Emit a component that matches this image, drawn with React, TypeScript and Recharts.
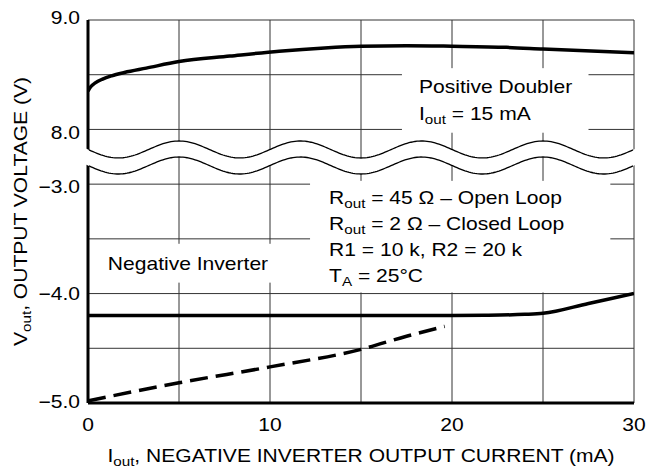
import React from "react";
import { LineChart, Line, XAxis, YAxis, CartesianGrid, ReferenceArea, Label } from "recharts";

// mA / volts
const currentTicks = [0, 5, 10, 15, 20, 25, 30];
const currentLabels = ["0", "", "10", "", "20", "", "30"];

// positive doubler, Iout = 15 mA (upper panel)
const doublerCurrent = [0, 0.15, 0.4, 0.8, 1.3, 2, 3.2, 5, 7.8, 10.5, 13, 15, 17.5, 20, 23, 25, 30];
const doublerVolts = [8.35, 8.39, 8.425, 8.46, 8.49, 8.52, 8.56, 8.62, 8.67, 8.715, 8.745, 8.76, 8.765, 8.76, 8.75, 8.735, 8.7];

// negative inverter, closed loop (solid)
const closedCurrent = [0, 5, 10, 15, 20, 22, 24, 25, 27.5, 30];
const closedVolts = [-4.2, -4.2, -4.2, -4.2, -4.2, -4.198, -4.19, -4.18, -4.09, -4.0];

// negative inverter, open loop (dashed)
const openCurrent = [0, 5, 10, 15, 17.5, 19.6];
const openVolts = [-4.98, -4.815, -4.67, -4.51, -4.39, -4.3];

// broken y axis: 8..9 V sits half a volt above -3 V
const BREAK_SHIFT = 10.5;
const voltTicks = [-5, -4.5, -4, -3.5, -3, 8, 8.5, 9];
const voltLabels = ["\u22125.0", "", "\u22124.0", "", "\u22123.0", "8.0", "", "9.0"];

const toAxis = (v: number) => (v > 0 ? v - BREAK_SHIFT : v);
const pairs = (xs: number[], ys: number[]) => xs.map((x, i) => ({ x, y: toAxis(ys[i]) }));

const doubler = pairs(doublerCurrent, doublerVolts);
const closedLoop = pairs(closedCurrent, closedVolts);
const openLoop = pairs(openCurrent, openVolts);
const yAxisTicks = voltTicks.map(toAxis);

const FONT = "'Liberation Sans', Arial, sans-serif";
const STRETCH = 1.17; // original lettering is wider than Arial
// labels next to the break sit a little away from their gridlines
const tickNudge = [-1, 0, 0, 0, 2, 3, 0, -2];

const Txt = ({ x, y, anchor = "start", rotate = 0, children }: any) => (
  <g transform={`translate(${x},${y}) rotate(${rotate}) scale(${STRETCH},1)`}>
    <text x={0} y={0} textAnchor={anchor} fontSize={18} fontFamily={FONT} fill="#000">
      {children}
    </text>
  </g>
);

const Sub = ({ children }: any) => (
  <tspan fontSize={13} dy={4}>
    {children}
  </tspan>
);

const YTick = ({ x, y, payload }: any) => {
  const i = yAxisTicks.findIndex((t) => Math.abs(t - payload.value) < 1e-6);
  const label = i >= 0 ? voltLabels[i] : "";
  if (!label) return <g />;
  return <Txt x={x} y={y + 6.4 + tickNudge[i]} anchor="end">{label}</Txt>;
};

const XTick = ({ x, y, payload }: any) => {
  const label = currentLabels[currentTicks.indexOf(payload.value)];
  if (!label) return <g />;
  return <Txt x={x} y={y + 28} anchor="middle">{label}</Txt>;
};

const WaveBreak = ({ x, y, width, height }: any) => {
  const amp = 8.5;
  const upper = y + 12.5;
  const lower = y + height - 12.5;
  const period = (width * 2) / 9;
  const crest = x + width / 6;
  const wave = (px: number, c: number) => c - amp * Math.cos((2 * Math.PI * (px - crest)) / period);
  const xs: number[] = [];
  for (let px = x - 5; px <= x + width + 5; px += 2) xs.push(px);
  const up = xs.map((px) => `${px},${wave(px, upper)}`);
  const lo = xs.map((px) => `${px},${wave(px, lower)}`).reverse();
  const inner = xs.filter((px) => px >= x && px <= x + width);
  const line = (c: number) => "M" + inner.map((px) => `${px},${wave(px, c)}`).join("L");
  return (
    <g>
      <path d={"M" + up.join("L") + "L" + lo.join("L") + "Z"} fill="#fff" stroke="none" />
      <path d={line(upper)} fill="none" stroke="#000" strokeWidth={1.3} />
      <path d={line(lower)} fill="none" stroke="#000" strokeWidth={1.3} />
    </g>
  );
};

const DoublerNote = ({ x, y, width, height }: any) => (
  <g>
    <rect x={x} y={y} width={width} height={height} fill="#fff" />
    <Txt x={x + 17} y={y + 25}>Positive Doubler</Txt>
    <Txt x={x + 17} y={y + 52}>
      I<Sub>out</Sub>
      <tspan dy={-4}> = 15 mA</tspan>
    </Txt>
  </g>
);

const ConditionsNote = ({ x, y, width, height }: any) => (
  <g>
    <rect x={x} y={y} width={width} height={height} fill="#fff" />
    <Txt x={x + 19} y={y + 23}>
      R<Sub>out</Sub>
      <tspan dy={-4}> = 45 {"\u03A9"} {"\u2013"} Open Loop</tspan>
    </Txt>
    <Txt x={x + 19} y={y + 49}>
      R<Sub>out</Sub>
      <tspan dy={-4}> = 2 {"\u03A9"} {"\u2013"} Closed Loop</tspan>
    </Txt>
    <Txt x={x + 19} y={y + 75}>R1 = 10 k, R2 = 20 k</Txt>
    <Txt x={x + 19} y={y + 101}>
      T<Sub>A</Sub>
      <tspan dy={-4}> = 25{"\u00B0"}C</tspan>
    </Txt>
  </g>
);

const InverterNote = ({ x, y, width, height }: any) => (
  <g>
    <rect x={x} y={y} width={width} height={height} fill="#fff" />
    <Txt x={x + 8} y={y + 26}>Negative Inverter</Txt>
  </g>
);

const XTitle = ({ viewBox }: any) => (
  <Txt x={viewBox.x + viewBox.width / 2} y={viewBox.y + 58.7} anchor="middle">
    I<Sub>out</Sub>
    <tspan dy={-4}>, NEGATIVE INVERTER OUTPUT CURRENT (mA)</tspan>
  </Txt>
);

const YTitle = ({ viewBox }: any) => (
  <Txt x={viewBox.x + 27} y={viewBox.y + viewBox.height / 2} anchor="middle" rotate={-90}>
    V<Sub>out</Sub>
    <tspan dy={-4}>, OUTPUT VOLTAGE (V)</tspan>
  </Txt>
);

export default function App() {
  return (
    <div style={{ position: "absolute", left: 0, top: 0, background: "#fff" }}>
      <LineChart width={647} height={467} margin={{ top: 20, right: 13, bottom: 0, left: 0 }}>
        <CartesianGrid stroke="#333" strokeWidth={1} />
        <XAxis
          dataKey="x"
          type="number"
          domain={[0, 30]}
          ticks={currentTicks}
          allowDataOverflow
          height={64}
          tickSize={0}
          tickMargin={0}
          tickLine={false}
          axisLine={{ stroke: "#000", strokeWidth: 3 }}
          tick={<XTick />}
        >
          <Label content={<XTitle />} />
        </XAxis>
        <YAxis
          type="number"
          domain={[-5, -1.5]}
          ticks={yAxisTicks}
          allowDataOverflow
          width={88}
          tickSize={0}
          tickMargin={8}
          tickLine={false}
          axisLine={{ stroke: "#000", strokeWidth: 3 }}
          tick={<YTick />}
        >
          <Label content={<YTitle />} />
        </YAxis>
        <ReferenceArea x1={17.25} x2={27.5} y1={toAxis(7.97)} y2={toAxis(8.56)} shape={<DoublerNote />} />
        <ReferenceArea x1={12.2} x2={28.7} y1={-3.99} y2={-2.97} shape={<ConditionsNote />} />
        <ReferenceArea x1={0.65} x2={10.65} y1={-3.9} y2={-3.545} shape={<InverterNote />} />
        <Line data={doubler} dataKey="y" type="monotone" stroke="#000" strokeWidth={3.5} dot={false} isAnimationActive={false} />
        <Line data={closedLoop} dataKey="y" type="monotone" stroke="#000" strokeWidth={3.5} dot={false} isAnimationActive={false} />
        <Line
          data={openLoop}
          dataKey="y"
          type="monotone"
          stroke="#000"
          strokeWidth={3.5}
          strokeDasharray="18 8"
          dot={false}
          isAnimationActive={false}
        />
        <ReferenceArea x1={0} x2={30} y1={-2.944} y2={-2.569} shape={<WaveBreak />} zIndex={1500} />
      </LineChart>
    </div>
  );
}
